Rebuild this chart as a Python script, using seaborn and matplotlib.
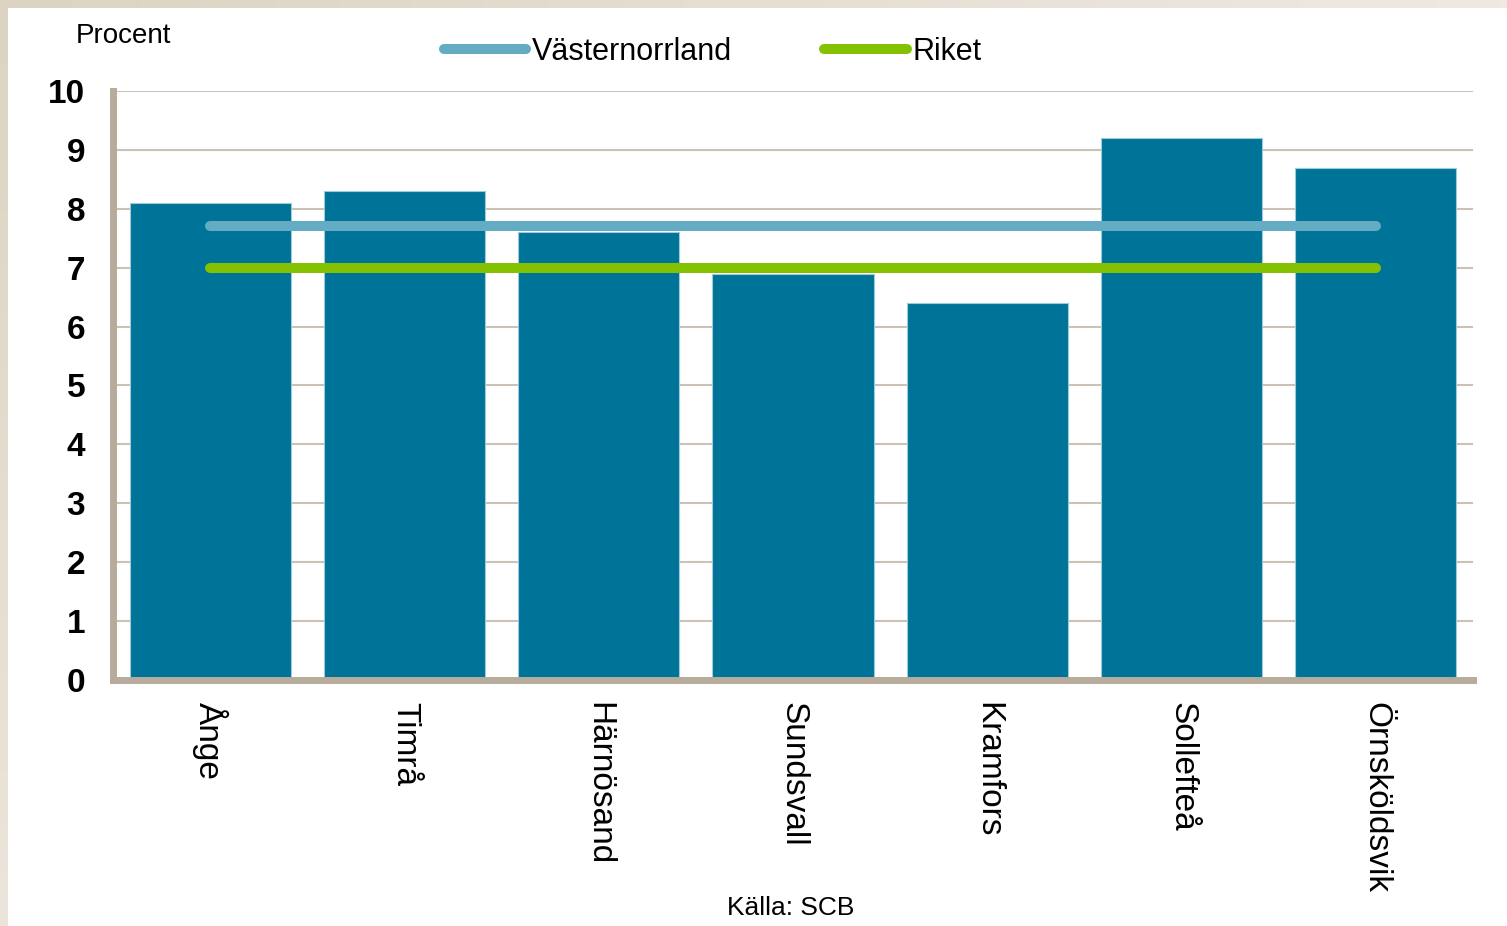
import numpy as np
import pandas as pd
import matplotlib.pyplot as plt
import seaborn as sns

kommuner = ["Ånge", "Timrå", "Härnösand", "Sundsvall", "Kramfors", "Sollefteå", "Örnsköldsvik"]
andel = [8.1, 8.3, 7.6, 6.9, 6.4, 9.2, 8.7]
vasternorrland = 7.7
riket = 7.0
y_ticks = list(range(0, 11))

BAR = "#007398"
BLUE_LINE = "#64abc4"
GREEN_LINE = "#84c100"
SPINE = "#b7ab9b"
GRID = "#cbc1b4"

sns.set_theme(style="white")
plt.rcParams['font.family'] = ['Liberation Sans', 'DejaVu Sans']
plt.rcParams['text.color'] = 'black'

df = pd.DataFrame({"kommun": kommuner, "andel": andel})

fig = plt.figure(figsize=(15.07, 9.26), dpi=100)
fig.patch.set_facecolor("white")

# beige frame at top and left edge
top_band = fig.add_axes([0, 1 - 8 / 926, 1, 8 / 926])
top_band.imshow(np.linspace(0, 1, 256)[None, :], aspect="auto",
                cmap=sns.blend_palette(["#ddd3c2", "#efe9e2"], as_cmap=True))
top_band.axis("off")
left_band = fig.add_axes([0, 0, 8 / 1507, 1 - 8 / 926])
left_band.imshow(np.linspace(0, 1, 256)[:, None], aspect="auto",
                 cmap=sns.blend_palette(["#ece5db", "#ddd3c2"], as_cmap=True), origin="lower")
left_band.axis("off")

ax = fig.add_axes([0.075, 0.2657, 0.9024, 0.636])

sns.barplot(data=df, x="kommun", y="andel", color=BAR, width=0.83,
            edgecolor="#9ccbdc", linewidth=0.8, saturation=1, ax=ax)

ax.plot([kommuner[0], kommuner[-1]], [vasternorrland, vasternorrland],
        color=BLUE_LINE, lw=7.2, solid_capstyle="round", label="Västernorrland", zorder=4)
ax.plot([kommuner[0], kommuner[-1]], [riket, riket],
        color=GREEN_LINE, lw=7.2, solid_capstyle="round", label="Riket", zorder=4)

ax.set_xlim(-0.5, len(kommuner) - 0.5)
ax.set_ylim(0, 10)
ax.set_yticks(y_ticks)
ax.set_yticklabels([str(t) for t in y_ticks], fontsize=24, fontweight="bold")
ax.set_xticks(range(len(kommuner)))
ax.set_xticklabels(kommuner, rotation=-90, fontsize=24, va="top", ha="center")
ax.tick_params(axis="y", length=0, pad=20, colors="black")
ax.tick_params(axis="x", length=0, pad=16, colors="black")
ax.set_xlabel("")
ax.set_ylabel("")

ax.yaxis.grid(True, color=GRID, lw=1.5)
ax.set_axisbelow(True)
for side in ["top", "right"]:
    ax.spines[side].set_visible(False)
for side in ["left", "bottom"]:
    ax.spines[side].set_color(SPINE)
    ax.spines[side].set_linewidth(5)

fig.text(0.05, 0.961, "Procent", fontsize=20, ha="left", va="center")
fig.text(0.525, 0.019, "Källa: SCB", fontsize=19, ha="center", va="center")

fig.legend(loc="center", bbox_to_anchor=(0.473, 0.944), ncol=2, frameon=False,
           fontsize=22, handlelength=2.7, handletextpad=0.2, columnspacing=3.0)

fig.savefig("out.png", dpi=100)
